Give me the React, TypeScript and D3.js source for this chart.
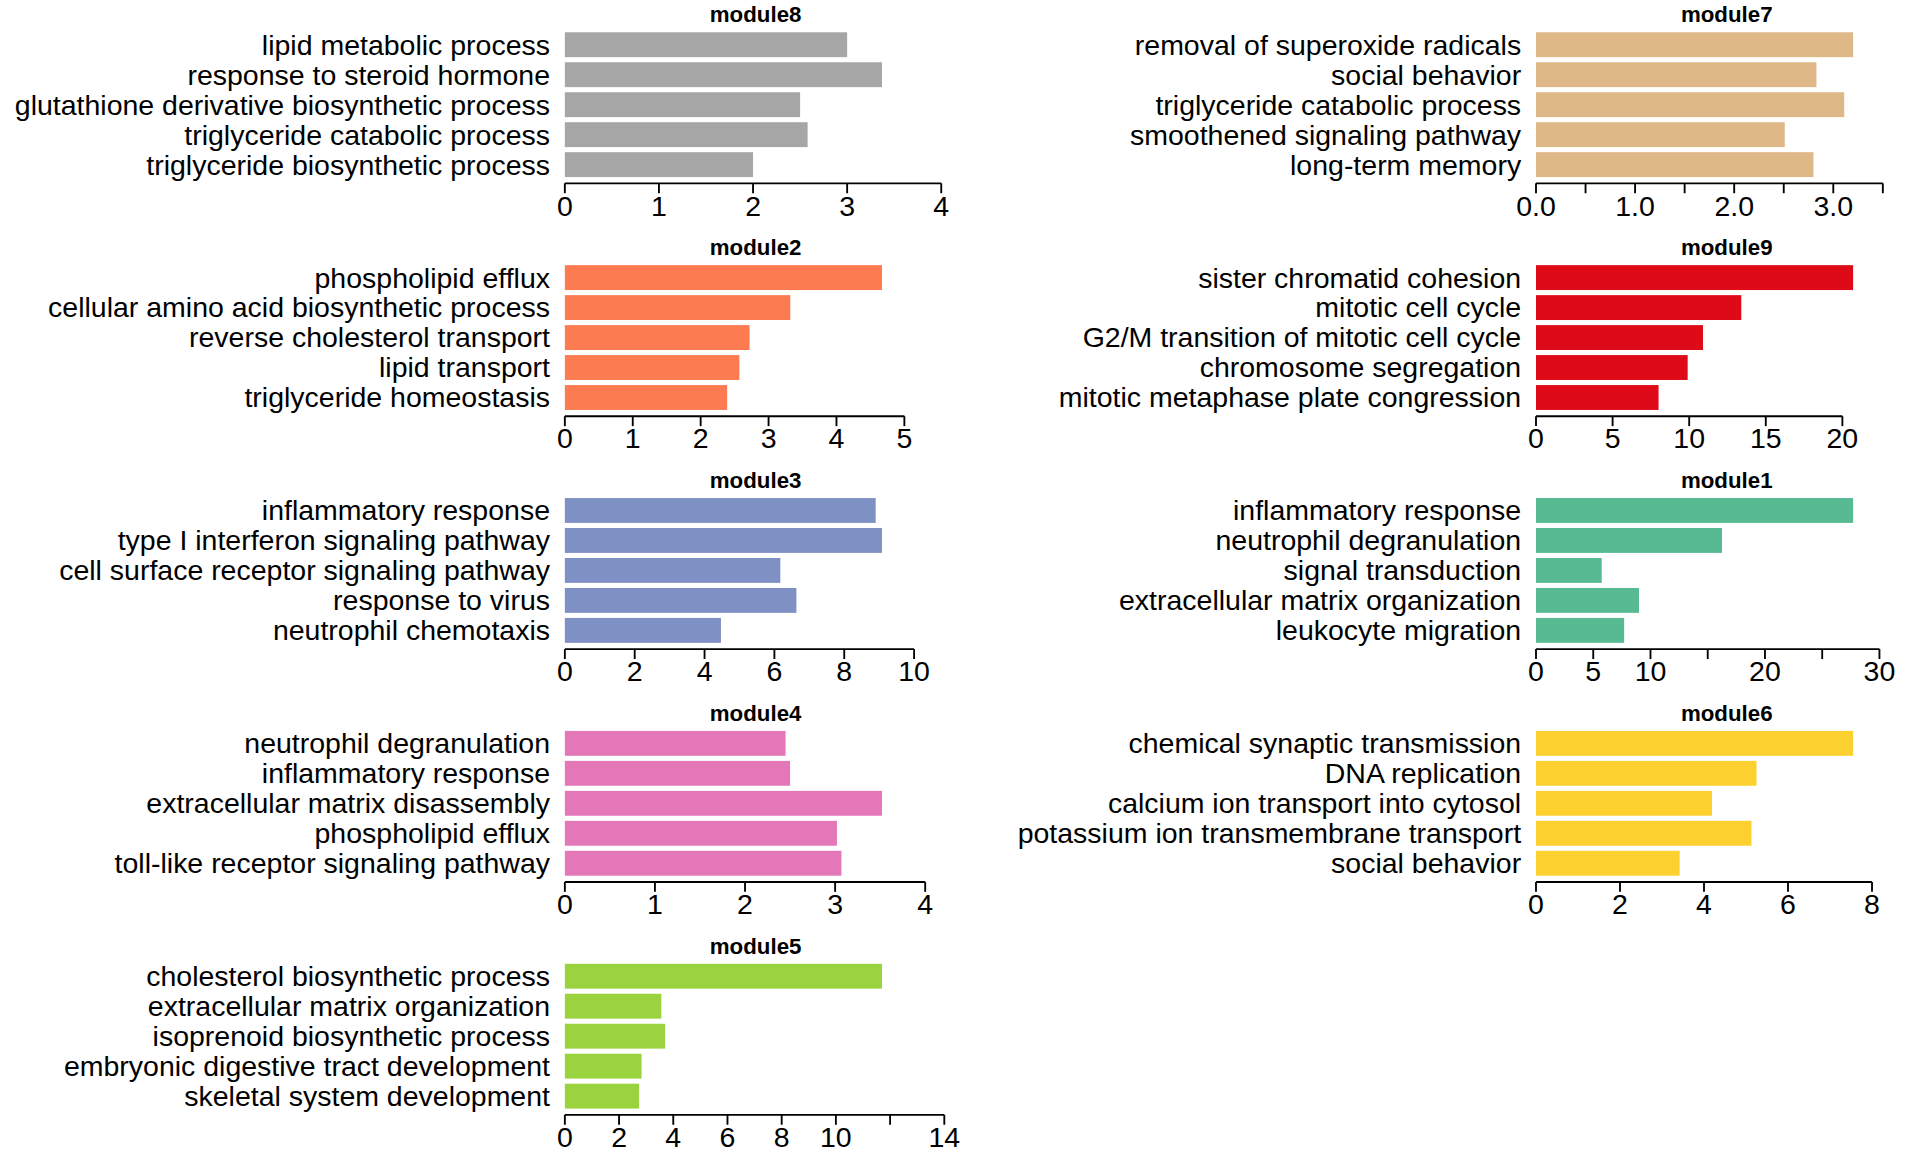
import React from "react";
import * as d3 from "d3";

const moduleNames = ["module8","module7","module2","module9","module3","module1","module4","module6","module5"];
const colors = ["#A6A6A6","#DEB887","#FC7B51","#DE0A17","#7F90C4","#58BA93","#E377B8","#FCD12F","#9BD33F"];
const terms: string[][] = [
  ["lipid metabolic process","response to steroid hormone","glutathione derivative biosynthetic process","triglyceride catabolic process","triglyceride biosynthetic process"],
  ["removal of superoxide radicals","social behavior","triglyceride catabolic process","smoothened signaling pathway","long-term memory"],
  ["phospholipid efflux","cellular amino acid biosynthetic process","reverse cholesterol transport","lipid transport","triglyceride homeostasis"],
  ["sister chromatid cohesion","mitotic cell cycle","G2/M transition of mitotic cell cycle","chromosome segregation","mitotic metaphase plate congression"],
  ["inflammatory response","type I interferon signaling pathway","cell surface receptor signaling pathway","response to virus","neutrophil chemotaxis"],
  ["inflammatory response","neutrophil degranulation","signal transduction","extracellular matrix organization","leukocyte migration"],
  ["neutrophil degranulation","inflammatory response","extracellular matrix disassembly","phospholipid efflux","toll-like receptor signaling pathway"],
  ["chemical synaptic transmission","DNA replication","calcium ion transport into cytosol","potassium ion transmembrane transport","social behavior"],
  ["cholesterol biosynthetic process","extracellular matrix organization","isoprenoid biosynthetic process","embryonic digestive tract development","skeletal system development"],
];
const values: number[][] = [
  [3.0,3.37,2.5,2.58,2.0],
  [3.2,2.83,3.11,2.51,2.8],
  [4.67,3.32,2.72,2.57,2.39],
  [20.7,13.4,10.9,9.9,8.0],
  [8.9,9.08,6.17,6.63,4.47],
  [27.7,16.25,5.74,9.0,7.7],
  [2.45,2.5,3.52,3.02,3.07],
  [7.55,5.25,4.19,5.13,3.42],
  [11.7,3.56,3.7,2.83,2.74],
];
const axisMax = [4,3.5,5,20,10,30,4,8,14];
const tickVals: number[][] = [
  [0,1,2,3,4],[0,0.5,1,1.5,2,2.5,3,3.5],[0,1,2,3,4,5],[0,5,10,15,20],[0,2,4,6,8,10],
  [0,5,10,15,20,25,30],[0,1,2,3,4],[0,2,4,6,8],[0,2,4,6,8,10,12,14],
];
const tickLabels: string[][] = [
  ["0","1","2","3","4"],["0.0","","1.0","","2.0","","3.0",""],["0","1","2","3","4","5"],["0","5","10","15","20"],
  ["0","2","4","6","8","10"],["0","5","10","","20","","30"],["0","1","2","3","4"],["0","2","4","6","8"],
  ["0","2","4","6","8","10","","14"],
];

const FONT = "'Liberation Sans', Arial, sans-serif";

function Panel({ i }: { i: number }) {
  const col = i % 2, row = Math.floor(i / 2);
  const x0 = col === 0 ? 456 : 1240;
  const y0 = row * 188;
  const maxV = d3.max(values[i])!;
  const pxPerUnit = 256 / maxV;
  const x = d3.scaleLinear().domain([0, axisMax[i]]).range([x0, x0 + axisMax[i] * pxPerUnit]);
  const y = d3.scaleBand<number>().domain([0,1,2,3,4]).range([y0 + 24, y0 + 145]).paddingInner(0.17).paddingOuter(0.085);
  const axY = y0 + 148;
  return (
    <g>
      <text x={x0 + 154} y={y0 + 18} textAnchor="middle" fontWeight="bold" fontSize={18} fontFamily={FONT}>{moduleNames[i]}</text>
      {values[i].map((v, k) => (
        <g key={k}>
          <rect x={x(0)} y={y(k)!} width={x(v) - x(0)} height={y.bandwidth()} fill={colors[i]} />
          <text x={x0 - 12} y={y(k)! + y.bandwidth() / 2 + 8} textAnchor="end" fontSize={23} fontFamily={FONT}>{terms[i][k]}</text>
        </g>
      ))}
      <line x1={x(0)} x2={x(axisMax[i])} y1={axY} y2={axY} stroke="#000" strokeWidth={1.5} />
      {tickVals[i].map((t, k) => (
        <g key={k}>
          <line x1={x(t)} x2={x(t)} y1={axY} y2={axY + 8} stroke="#000" strokeWidth={1.5} />
          {tickLabels[i][k] && (
            <text x={x(t)} y={axY + 26} textAnchor="middle" fontSize={23} fontFamily={FONT}>{tickLabels[i][k]}</text>
          )}
        </g>
      ))}
    </g>
  );
}

export default function App() {
  return (
    <svg width={1920} height={1152} viewBox="0 0 1550 930" style={{ position: "absolute", left: 0, top: 0, background: "#fff" }}>
      <rect width={1550} height={930} fill="#fff" />
      {moduleNames.map((_, i) => <Panel key={i} i={i} />)}
    </svg>
  );
}
